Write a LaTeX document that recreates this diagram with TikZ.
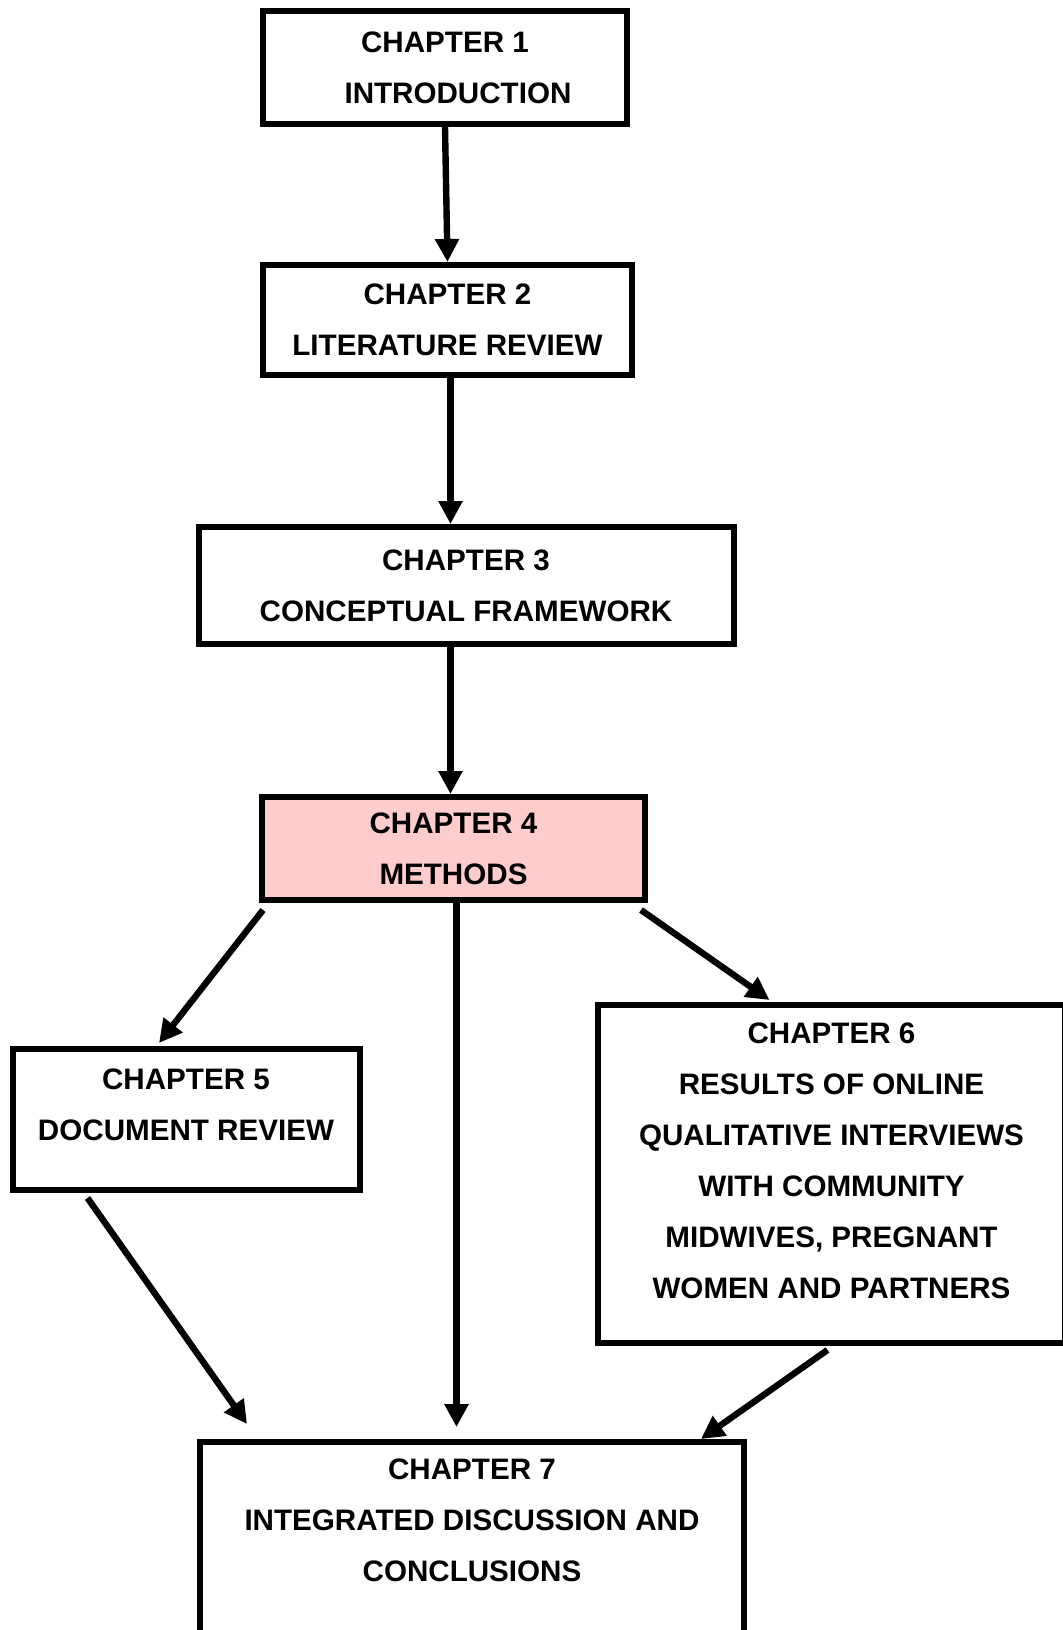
\documentclass[tikz,border=0pt]{standalone}
\usepackage{fontspec}
\setmainfont{Liberation Sans}
\usetikzlibrary{arrows.meta,calc}
\definecolor{methodpink}{RGB}{255,204,204}

\begin{document}
\begin{tikzpicture}[x=0.5pt,y=-0.5pt,
        chapbox/.style={draw,line width=3pt,align=center,inner sep=0pt,
            font=\bfseries\fontsize{14.8}{25.5}\selectfont},
        link/.style={line width=3.2pt,-{Triangle[length=11.5pt,width=11.5pt]}}]
        \useasboundingbox (0,0) rectangle (1063,1630);
        \clip (0,0) rectangle (1063,1630);
        \node[chapbox,minimum width=182pt,minimum height=56.5pt] (ch1) at (445,67.5)
            {CHAPTER 1\\\hspace*{13pt}INTRODUCTION};
        \node[chapbox,minimum width=184.5pt,minimum height=55pt] (ch2) at (447.5,320)
            {CHAPTER 2\\LITERATURE REVIEW};
        \node[chapbox,minimum width=267.5pt,minimum height=58.5pt] (ch3) at (466,585.5)
            {CHAPTER 3\\CONCEPTUAL FRAMEWORK};
        \node[chapbox,fill=methodpink,minimum width=191.5pt,minimum height=51.5pt] (ch4) at (453.5,848.5)
            {CHAPTER 4\\METHODS};
        \node[chapbox,minimum width=173.5pt,minimum height=70.5pt] (ch5) at (186,1119.5)
            {CHAPTER 5\\DOCUMENT REVIEW\\[-10.5pt]~};
        \node[chapbox,minimum width=233.5pt,minimum height=169pt] (ch6) at (831.5,1174)
            {CHAPTER 6\\RESULTS OF ONLINE\\QUALITATIVE INTERVIEWS\\WITH COMMUNITY\\MIDWIVES, PREGNANT\\WOMEN AND PARTNERS\\[-12pt]~};
        \node[chapbox,minimum width=272pt,minimum height=129pt] (ch7) at (472,1571)
            {CHAPTER 7\\INTEGRATED DISCUSSION AND\\CONCLUSIONS\\~\\~};
        \draw[link] (ch1.south) -- (ch2.north);
        \draw[link] ($(ch2.south)+(3,0)$) -- ($(ch2.south |- ch3.north)+(3,0)$);
        \draw[link] ($(ch4.north |- ch3.south)+(-3,0)$) -- ($(ch4.north)+(-3,0)$);
        \draw[link] ($(ch4.south west)+(4,7)$) -- ($(ch5.north)+(-27,-3)$);
        \draw[link] ($(ch4.south)+(3,0)$) -- ($(ch4.south |- ch7.north)+(3,-12)$);
        \draw[link] ($(ch4.south east)+(-7,7)$) -- ($(ch6.north)+(-62,-2)$);
        \draw[link] ($(ch5.south west)+(78,5)$) -- ($(ch7.north west)+(50,-15)$);
        \draw[link] ($(ch6.south)+(-4,4)$) -- ($(ch7.north east)+(-46,0)$);
    \end{tikzpicture}
\end{document}
